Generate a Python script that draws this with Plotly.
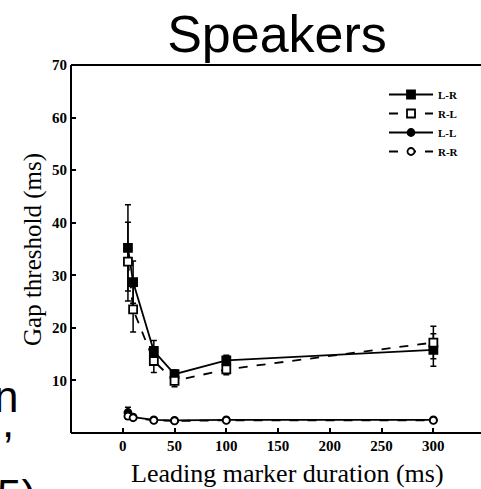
import plotly.graph_objects as go

# ---- data ----
durations = [5, 10, 30, 50, 100, 300]
lr_vals = [35.2, 28.7, 15.6, 11.2, 13.8, 15.8]
lr_err = [8.2, 4.0, 2.0, 0.8, 1.0, 3.1]
rl_vals = [32.6, 23.5, 13.7, 9.9, 12.1, 17.2]
rl_err = [7.5, 4.3, 2.2, 1.1, 1.0, 3.1]
ll_vals = [3.9, 3.0, 2.5, 2.4, 2.5, 2.5]
ll_err = [1.0, 0.3, 0.2, 0.2, 0.2, 0.2]
rr_vals = [3.2, 2.9, 2.4, 2.3, 2.4, 2.4]
rr_err = [0.6, 0.3, 0.2, 0.2, 0.2, 0.2]
series_names = ["L-R", "R-L", "L-L", "R-R"]
x_ticks = [0, 50, 100, 150, 200, 250, 300]
y_ticks = [10, 20, 30, 40, 50, 60, 70]

W, H = 481, 489
L, R, T, B = 71, 0, 65, 56
X_MAX = 346
pw, ph = W - L - R, H - T - B


def px_to_paper(px, py):
    return (px - L) / pw, (H - B - py) / ph


serif = "Liberation Serif"
fig = go.Figure()

styles = [
    (lr_vals, lr_err, "solid", "square", "black", 8),
    (rl_vals, rl_err, "dash", "square", "white", 8),
    (ll_vals, ll_err, "solid", "circle", "black", 7),
    (rr_vals, rr_err, "dash", "circle", "white", 7),
]
for name, (vals, err, dash, sym, fill, ms) in zip(series_names, styles):
    fig.add_trace(go.Scatter(
        x=durations, y=vals, name=name, mode="lines+markers",
        line=dict(color="black", width=1.8, dash=dash),
        marker=dict(symbol=sym, size=ms, color=fill,
                    line=dict(color="black", width=1.8)),
        error_y=dict(type="data", array=err, visible=True, color="black",
                     thickness=1.5, width=3),
    ))

fig.update_layout(
    width=W, height=H,
    margin=dict(l=L, r=R, t=T, b=B, pad=0),
    paper_bgcolor="white", plot_bgcolor="white",
    showlegend=True,
    legend=dict(x=px_to_paper(384, 0)[0], y=px_to_paper(0, 80)[1],
                xanchor="left", yanchor="top",
                font=dict(family=serif, size=11, color="black", weight="bold"),
                bgcolor="rgba(0,0,0,0)", borderwidth=0, itemwidth=44,
                tracegroupgap=0),
    title=dict(text="Speakers", x=277 / W, xref="container", xanchor="center",
               y=1 - 34 / H, yref="container", yanchor="middle",
               font=dict(family="Liberation Sans", size=52, color="black")),
)

fig.update_xaxes(
    range=[-50, X_MAX], tickvals=x_ticks, ticks="inside", ticklen=5, tickwidth=1.5,
    tickcolor="black", showline=False, mirror=False,
    showgrid=False, zeroline=False,
    tickfont=dict(family=serif, size=15, color="black", weight="bold"),
    ticklabelstandoff=2,
)
fig.update_yaxes(
    range=[0, 70], tickvals=y_ticks, ticks="inside", ticklen=5, tickwidth=1.5,
    tickcolor="black", showline=False, mirror=False,
    showgrid=False, zeroline=False,
    tickfont=dict(family=serif, size=15, color="black", weight="bold"),
    ticklabelstandoff=3,
)

# frame lines (left, bottom, top) of the plot box
frame = dict(color="black", width=2)
fig.add_shape(type="line", xref="paper", yref="paper", x0=0, x1=1, y0=1, y1=1, line=frame)
fig.add_shape(type="line", xref="paper", yref="paper", x0=0, x1=1, y0=0, y1=0, line=frame)
fig.add_shape(type="line", xref="paper", yref="paper", x0=0, x1=0, y0=0, y1=1, line=frame)

# axis titles
xt = px_to_paper(287, 473)
fig.add_annotation(text="Leading marker duration (ms)", x=xt[0], y=xt[1],
                   xref="paper", yref="paper", xanchor="center", yanchor="middle",
                   showarrow=False, font=dict(family=serif, size=26, color="black"))
yt = px_to_paper(33, 250)
fig.add_annotation(text="Gap threshold (ms)", x=yt[0], y=yt[1], textangle=-90,
                   xref="paper", yref="paper", xanchor="center", yanchor="middle",
                   showarrow=False, font=dict(family=serif, size=25, color="black"))

# clipped slide text fragments on the left
frags = [("n", 20, 396), (",", 16, 421), ("5)", 38, 495)]
for txt, px, py in frags:
    ax, ay = px_to_paper(px, py)
    fig.add_annotation(text=txt, x=ax, y=ay, xref="paper", yref="paper",
                       xanchor="right", yanchor="middle", showarrow=False,
                       font=dict(family="Liberation Sans", size=44, color="black"))

fig.write_html("out.html")
